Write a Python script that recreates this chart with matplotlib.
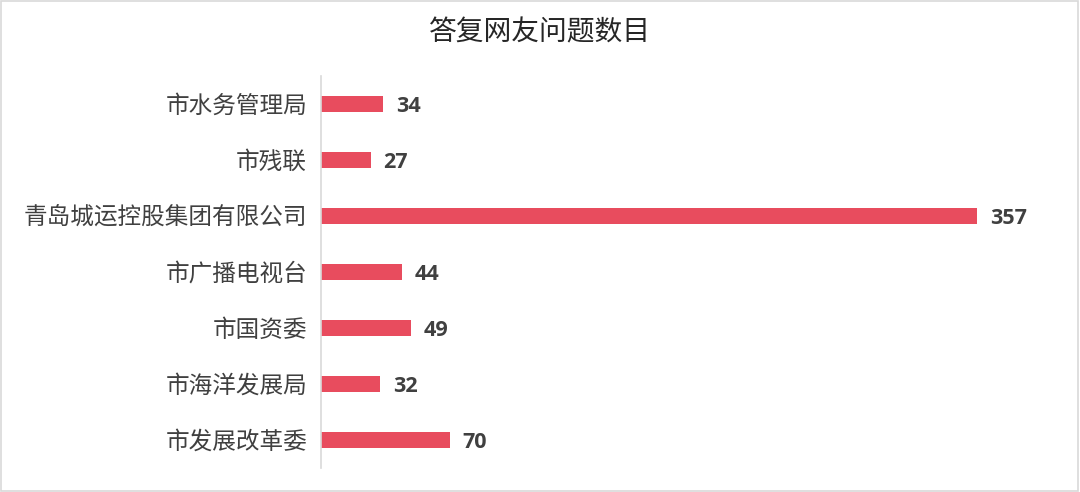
import matplotlib
matplotlib.use("Agg")
import matplotlib.pyplot as plt
from matplotlib.patches import Rectangle

plt.rcParams['font.family'] = ['Noto Sans CJK SC', 'DejaVu Sans']

# 数据（从上到下）
bumen = ['市水务管理局', '市残联', '青岛城运控股集团有限公司', '市广播电视台',
         '市国资委', '市海洋发展局', '市发展改革委']
shumu = [34, 27, 357, 44, 49, 32, 70]

W, H = 1080, 492
fig = plt.figure(figsize=(W / 100, H / 100), dpi=100)
# axes 位置按像素算
x0, x1 = 321, 1040
y0, y1 = 76, 468
ax = fig.add_axes([x0 / W, 1 - y1 / H, (x1 - x0) / W, (y1 - y0) / H])

ypos = list(range(len(bumen)))[::-1]
ax.barh(ypos, shumu, height=0.27, color='#E84C5E')
for y, v in zip(ypos, shumu):
    ax.text(v + 7, y - 0.04, str(v), va='center', ha='left', fontsize=15.5,
            fontweight='bold', color='#404040', family=['Open Sans', 'DejaVu Sans'])

ax.set_xlim(0, (x1 - x0) / ((977 - 321) / 357))
ax.set_ylim(-0.5, len(bumen) - 0.5)
ax.set_yticks(ypos)
ax.set_yticklabels(bumen, fontsize=17, color='#404040')
ax.tick_params(axis='y', length=0, pad=10)
ax.set_xticks([])
for s in ['top', 'right', 'bottom']:
    ax.spines[s].set_visible(False)
ax.spines['left'].set_color('#D9D9D9')
ax.spines['left'].set_linewidth(1.2)

fig.text(0.5, 1 - 32 / H, '答复网友问题数目', ha='center', va='center',
         fontsize=20, color='#262626')

# 外框
fig.patches.append(Rectangle((0.001, 0.002), 0.997, 0.996, transform=fig.transFigure,
                             fill=False, edgecolor='#D9D9D9', linewidth=1.2))

fig.savefig('out.png', dpi=100)
